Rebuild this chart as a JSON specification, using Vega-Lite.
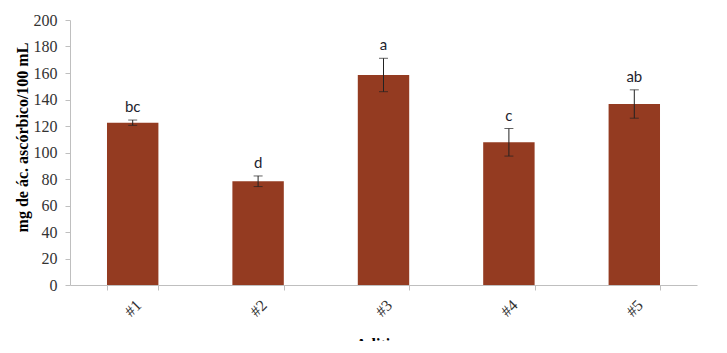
{
  "$schema": "https://vega.github.io/schema/vega-lite/v6.json",
  "width": 627,
  "height": 265,
  "autosize": {"type": "none"},
  "padding": {"left": 70, "top": 20, "right": 30, "bottom": 56},
  "background": "white",
  "config": {
    "view": {"stroke": null},
    "axisY": {
      "tickCount": 10,
      "labelOverlap": false,
      "titleFont": "Liberation Serif",
      "titleFontSize": 16,
      "titleFontWeight": "bold",
      "titleColor": "#000",
      "titleAngle": -90,
      "titleAlign": "center",
      "titleBaseline": "middle",
      "titleX": -48,
      "titleY": 117,
      "labelFont": "Liberation Serif",
      "labelFontSize": 16,
      "labelColor": "#333",
      "labelPadding": 8,
      "tickSize": 5,
      "tickColor": "#bfbfbf",
      "domainColor": "#bfbfbf",
      "grid": false
    }
  },
  "data": {
    "values": [
      {"aditivo": "#1", "media": 122.5, "lo": 120.5, "hi": 124.5, "letra": "bc"},
      {"aditivo": "#2", "media": 78.3, "lo": 74.3, "hi": 82.3, "letra": "d"},
      {"aditivo": "#3", "media": 158.5, "lo": 145.9, "hi": 171.1, "letra": "a"},
      {"aditivo": "#4", "media": 107.7, "lo": 97.3, "hi": 118.1, "letra": "c"},
      {"aditivo": "#5", "media": 136.6, "lo": 125.9, "hi": 147.3, "letra": "ab"}
    ]
  },
  "encoding": {
    "x": {
      "field": "aditivo",
      "type": "nominal",
      "sort": null,
      "scale": {"paddingInner": 0.59, "paddingOuter": 0.295},
      "axis": {
        "title": "Aditivos",
        "titleFont": "Liberation Serif",
        "titleFontSize": 16,
        "titleFontWeight": "bold",
        "titleColor": "#000",
        "titleBaseline": "top",
        "titleY": 51,
        "labelAngle": -45,
        "labelAlign": "center",
        "labelBaseline": "middle",
        "labelPadding": 18,
        "labelFont": "Liberation Serif",
        "labelFontSize": 16,
        "labelColor": "#333",
        "tickBand": "extent",
        "tickSize": 5,
        "tickColor": "#bfbfbf",
        "domainColor": "#bfbfbf",
        "grid": false
      }
    }
  },
  "layer": [
    {
      "mark": {"type": "bar", "color": "#943B21"},
      "encoding": {
        "y": {
          "field": "media",
          "type": "quantitative",
          "scale": {"domain": [0, 200], "nice": false},
          "axis": {"title": "mg de ác. ascórbico/100 mL"}
        }
      }
    },
    {
      "mark": {"type": "rule", "color": "#222", "strokeWidth": 1},
      "encoding": {
        "y": {"field": "lo", "type": "quantitative"},
        "y2": {"field": "hi"}
      }
    },
    {
      "mark": {"type": "tick", "color": "#222", "size": 9, "thickness": 1},
      "encoding": {"y": {"field": "lo", "type": "quantitative"}}
    },
    {
      "mark": {"type": "tick", "color": "#222", "size": 9, "thickness": 1},
      "encoding": {"y": {"field": "hi", "type": "quantitative"}}
    },
    {
      "mark": {"type": "text", "baseline": "bottom", "dy": -5, "font": "Lato", "fontSize": 15, "color": "#1e1e2e"},
      "encoding": {
        "y": {"field": "hi", "type": "quantitative"},
        "text": {"field": "letra"}
      }
    }
  ]
}
